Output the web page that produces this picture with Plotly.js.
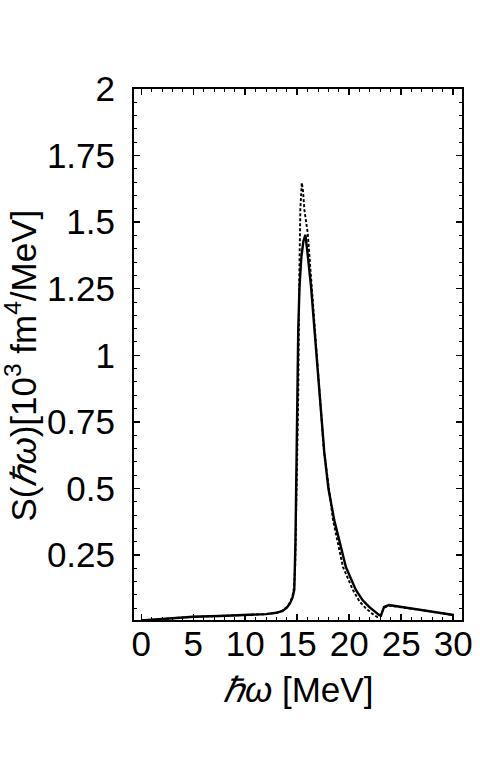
<!DOCTYPE html>
<html><head><meta charset="utf-8">
<script src="https://cdn.plot.ly/plotly-3.0.1.min.js"></script>
<style>body{margin:0;background:#fff}#c{width:480px;height:777px}</style>
</head><body><div id="c"></div>
<script>
// Solid curve
const solidX = [0, 1.5, 3, 5, 7.5, 10, 12, 13, 13.6, 14.0, 14.3, 14.55, 14.72, 14.83, 14.92, 15.0, 15.1, 15.22, 15.4, 15.6, 15.79, 16.0, 16.33, 16.97, 17.61, 18.0, 18.56, 19.04, 19.68, 20.64, 21.3, 21.92, 22.4, 22.87, 23.05, 23.35, 23.83, 27, 30.05];
const solidY = [0.004, 0.008, 0.013, 0.018, 0.021, 0.024, 0.028, 0.033, 0.04, 0.052, 0.068, 0.09, 0.12, 0.3, 0.6, 0.88, 1.1, 1.258, 1.37, 1.43, 1.452, 1.38, 1.258, 0.945, 0.633, 0.5, 0.381, 0.306, 0.205, 0.119, 0.08, 0.055, 0.038, 0.025, 0.022, 0.055, 0.062, 0.044, 0.025];
// Dashed curve
const dashX = [0, 1.5, 3, 5, 7.5, 10, 12, 13, 13.6, 14.0, 14.3, 14.55, 14.7, 14.8, 14.9, 15.0, 15.1, 15.2, 15.3, 15.44, 15.55, 15.69, 16.01, 16.49, 16.9, 17.55, 18.45, 18.95, 19.4, 20.35, 21.0, 21.6, 22.2, 22.7, 23.0, 23.35, 23.83, 27, 30.05];
const dashY = [0.004, 0.008, 0.013, 0.018, 0.021, 0.024, 0.028, 0.033, 0.042, 0.055, 0.072, 0.095, 0.13, 0.2, 0.4, 0.6, 0.85, 1.3, 1.55, 1.648, 1.62, 1.546, 1.459, 1.208, 0.98, 0.65, 0.38, 0.29, 0.205, 0.119, 0.075, 0.05, 0.03, 0.017, 0.02, 0.052, 0.06, 0.043, 0.024];
const xTickVals = [0, 5, 10, 15, 20, 25, 30];
const xTickText = ["0", "5", "10", "15", "20", "25", "30"];
const yTickVals = [0.25, 0.5, 0.75, 1, 1.25, 1.5, 1.75, 2];
const yTickText = ["0.25", "0.5", "0.75", "1", "1.25", "1.5", "1.75", "2"];
const xTitle = '<i>ℏω</i> [MeV]';
const yTitle = 'S(<i>ℏω</i>)[10<sup>3</sup> fm<sup>4</sup>/MeV]';

const traces = [
  {x: solidX, y: solidY, mode: 'lines', line: {color: '#000', width: 2.4}, hoverinfo: 'skip'},
  {x: dashX, y: dashY, mode: 'lines', line: {color: '#000', width: 1.9, dash: '3px,2px'}, hoverinfo: 'skip'}
];
const fontF = 'Liberation Sans, Arial, sans-serif';
const tf = {family: fontF, size: 35, color: '#000'};
const yf = {family: fontF, size: 35, color: '#000'};
const layout = {
  width: 480, height: 777,
  margin: {l: 134, r: 18, t: 89, b: 157},
  paper_bgcolor: '#fff', plot_bgcolor: '#fff',
  showlegend: false,
  font: {family: fontF, color: '#000', size: 35},
  xaxis: {
    range: [-0.7, 30.85], showgrid: false, zeroline: false,
    showline: true, linecolor: '#000', linewidth: 2, mirror: 'allticks',
    ticks: 'inside', ticklen: 6, tickwidth: 1.5, tickcolor: '#000',
    tickvals: xTickVals, ticktext: xTickText,
    tickfont: tf, ticklabelstandoff: -8,
    minor: {dtick: 1, ticks: 'inside', ticklen: 3, tickwidth: 1, tickcolor: '#000', showgrid: false}
  },
  yaxis: {
    range: [0.006, 2], showgrid: false, zeroline: false,
    showline: true, linecolor: '#000', linewidth: 2, mirror: 'allticks',
    ticks: 'inside', ticklen: 6, tickwidth: 1.5, tickcolor: '#000',
    tickvals: yTickVals, ticktext: yTickText,
    tickfont: tf, ticklabelstandoff: 10,
    minor: {dtick: 0.05, ticks: 'inside', ticklen: 3, tickwidth: 1, tickcolor: '#000', showgrid: false}
  },
  annotations: [
    {text: xTitle, xref: 'paper', yref: 'paper', x: 0.5, y: -0.13, xanchor: 'center', yanchor: 'middle', showarrow: false, font: tf},
    {text: yTitle, xref: 'paper', yref: 'paper', x: -0.343, y: 0.48, xanchor: 'center', yanchor: 'middle', textangle: -90, showarrow: false, font: yf}
  ]
};
Plotly.newPlot('c', traces, layout, {staticPlot: true, displayModeBar: false});
</script>
</body></html>
